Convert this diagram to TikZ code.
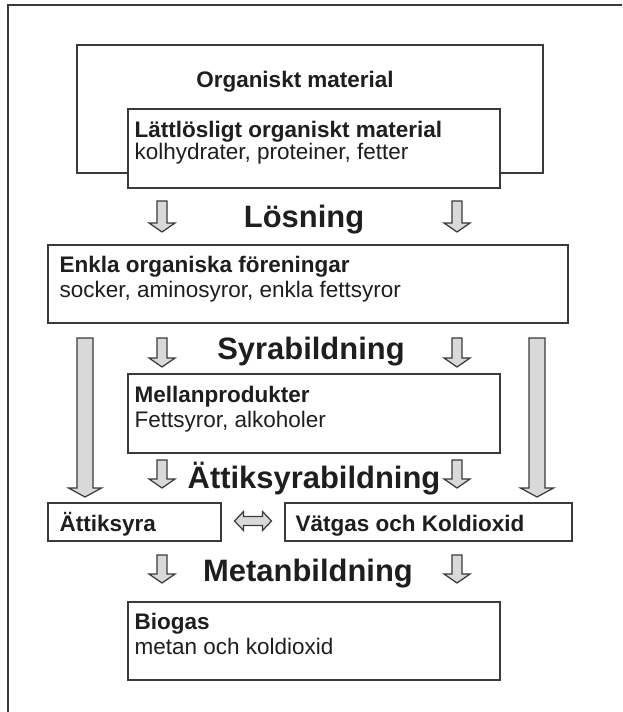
\documentclass[tikz,border=0pt]{standalone}
\usepackage{fontspec}
\setmainfont{Liberation Sans}
\usetikzlibrary{positioning, calc, arrows.meta}

\definecolor{linje}{HTML}{3A3A3A}
\definecolor{pilgra}{HTML}{D9D9D9}
\definecolor{texten}{HTML}{1E1E1E}

\tikzset{
    ruta/.style={draw=linje, fill=white, line width=0.85pt, inner sep=0pt},
    titel/.style={anchor=base west, inner sep=0pt, text=texten, font=\fontsize{12.8}{15}\selectfont\bfseries},
    rad/.style={anchor=base west, inner sep=0pt, text=texten, font=\fontsize{12.8}{15}\selectfont},
    fas/.style={anchor=base, inner sep=0pt, text=texten, font=\fontsize{17.6}{20}\selectfont\bfseries},
    pilstil/.style={draw=linje, fill=pilgra, line width=0.7pt, line join=miter},
    ram/.style={draw=linje, line width=1.3pt}
}

% block arrow pointing down: x, top, tip, half shaft, half head
\newcommand{\pil}[5]{%
    \filldraw[pilstil] (#1-#4,#2) -- (#1+#4,#2) -- (#1+#4,#3-9) -- (#1+#5,#3-9)
        -- (#1,#3) -- (#1-#5,#3-9) -- (#1-#4,#3-9) -- cycle;}

\begin{document}
\begin{tikzpicture}[x=0.02cm, y=-0.02cm]
    \useasboundingbox (0,0) rectangle (622,712);

    % Frame (top and left only)
    \draw[ram] (8,712) -- (8,5) -- (622,5);

    % Boxes
    \node[ruta, minimum width=9.32cm, minimum height=2.56cm] (org) at (310,109) {};
    \node[ruta, minimum width=7.44cm, minimum height=1.58cm] (latt) at (314,148.5) {};
    \node[ruta, minimum width=10.4cm, minimum height=1.56cm] (enkla) at (308,284) {};
    \node[ruta, minimum width=7.44cm, minimum height=1.58cm] (mellan) at (314,413.5) {};
    \node[ruta, minimum width=3.46cm, minimum height=0.76cm] (attik) at (134.5,522) {};
    \node[ruta, minimum width=5.74cm, minimum height=0.76cm] (vatgas) at (428.5,522) {};
    \node[ruta, minimum width=7.44cm, minimum height=1.56cm] (biogas) at (314,641) {};

    % Box texts
    \node[titel, anchor=base] (org-titel) at (295,88) {Organiskt material};
    \node[titel] (latt-titel) at ($(latt.north west)+(7,29)$) {Lättlösligt organiskt material};
    \node[rad] (latt-rad) at ($(latt.north west)+(7,51)$) {kolhydrater, proteiner, fetter};
    \node[titel] (enkla-titel) at ($(enkla.north west)+(12,28)$) {Enkla organiska föreningar};
    \node[rad] (enkla-rad) at ($(enkla.north west)+(12,53)$) {socker, aminosyror, enkla fettsyror};
    \node[titel] (mellan-titel) at ($(mellan.north west)+(7,29)$) {Mellanprodukter};
    \node[rad] (mellan-rad) at ($(mellan.north west)+(7,54)$) {Fettsyror, alkoholer};
    \node[titel] (attik-titel) at ($(attik.west)+(12,9)$) {Ättiksyra};
    \node[titel] (vatgas-titel) at ($(vatgas.west)+(11,9)$) {Vätgas och Koldioxid};
    \node[titel] (biogas-titel) at ($(biogas.north west)+(7,28)$) {Biogas};
    \node[rad] (biogas-rad) at ($(biogas.north west)+(7,53)$) {metan och koldioxid};

    % Phase labels
    \node[fas] (losning) at (304,228) {Lösning};
    \node[fas] (syra) at (311,359) {Syrabildning};
    \node[fas] (attiksyra) at (314,488) {Ättiksyrabildning};
    \node[fas] (metan) at (308,581) {Metanbildning};

    % Short arrows beside each label
    \foreach \t/\s in {201/232, 338/367, 460/488, 555/583} {
        \pil{162}{\t}{\s}{5}{13}
        \pil{457}{\t}{\s}{5}{13}
    }

    % Long arrows on the sides
    \pil{85}{338}{497}{8}{16.5}
    \pil{537}{338}{497}{8}{16.5}

    % Double arrow between the two products
    \coordinate (mitt) at ($(attik.east)!0.5!(vatgas.west)$);
    \filldraw[pilstil] ($(mitt)+(-18.5,-1)$) -- ++(9,-9.5) -- ++(0,5) -- ++(19,0) -- ++(0,-5)
        -- ++(9,9.5) -- ++(-9,9.5) -- ++(0,-5) -- ++(-19,0) -- ++(0,5) -- cycle;

\end{tikzpicture}
\end{document}
